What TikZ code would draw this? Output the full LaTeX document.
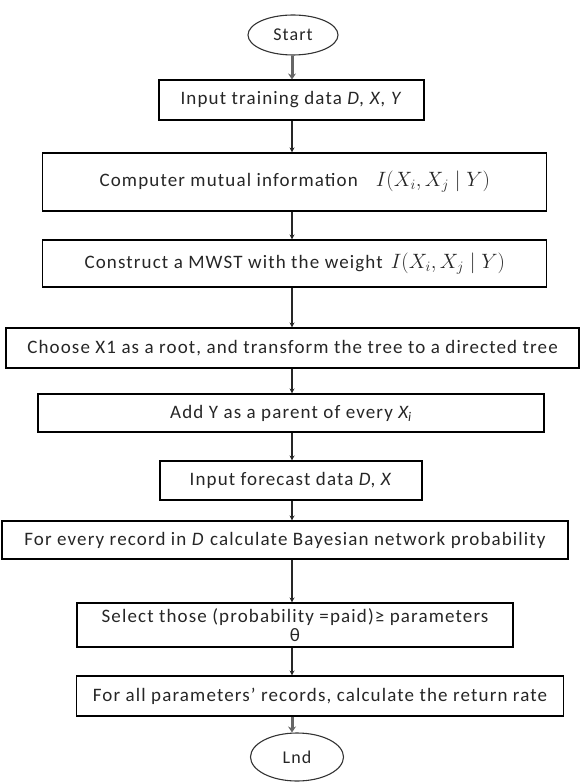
\documentclass[tikz,border=0pt]{standalone}
\usepackage{fontspec}
\setmainfont{Carlito}[LetterSpace=6]
\usetikzlibrary{shapes.geometric,arrows.meta}
\tikzset{
  box/.style={draw=black, line width=1.1pt, rectangle, inner sep=0pt, font=\fontsize{19}{22}\selectfont, text=black!85},
  oval/.style={draw=black!80, line width=1.1pt, ellipse, inner sep=0pt, font=\fontsize{18}{20}\selectfont, text=black!85},
  arr/.style={draw=black!85, line width=1.4pt, -{Stealth[length=5pt,width=5pt]}},
  tharr/.style={draw=black!60, line width=3pt, -{Stealth[length=6pt,width=8pt]}}
}
\newcommand{\mimath}{{\fontsize{20.5}{24}\selectfont$I(X_i, X_j \mid Y)$}}
\begin{document}
\begin{tikzpicture}[x=1pt,y=-1pt]
\useasboundingbox (0,0) rectangle (580,783);
\coordinate (ax) at (292,0);
\node[oval, minimum width=90pt, minimum height=40pt] (start) at (293,35) {Start};
\node[box, minimum width=265pt, minimum height=40pt] (b1) at (291.5,100) {Input training data \textit{D, X, Y}};
\node[box, minimum width=504pt, minimum height=58pt] (b2) at (294.75,182) {Computer mutual information\hspace{18pt}\mimath};
\node[box, minimum width=504pt, minimum height=47pt] (b3) at (294.75,263.5) {Construct a MWST with the weight\hspace{8pt}\mimath};
\node[box, minimum width=573pt, minimum height=40pt] (b4) at (292.5,348) {Choose X1 as a root, and transform the tree to a directed tree};
\node[box, minimum width=506pt, minimum height=38pt] (b5) at (291,413) {Add Y as a parent of every \textit{X\textsubscript{i}}};
\node[box, minimum width=262pt, minimum height=39pt] (b6) at (291,480.5) {Input forecast data \textit{D}, \textit{X}};
\node[box, minimum width=566pt, minimum height=38pt] (b7) at (285,540) {For every record in \textit{D} calculate Bayesian network probability};
\node[box, minimum width=436pt, minimum height=44pt, align=center] (b8) at (295,625) {Select those (probability =paid)≥ parameters\\[-3pt]θ};
\node[box, minimum width=487pt, minimum height=40pt] (b9) at (320,696) {For all parameters’ records, calculate the return rate};
\node[oval, minimum width=93pt, minimum height=48pt] (end) at (297,757) {Lnd};
\draw[tharr] (start.south -| ax) -- (b1.north -| ax);
\draw[arr] (b1.south -| ax) -- (b2.north -| ax);
\draw[arr] (b2.south -| ax) -- (b3.north -| ax);
\draw[arr] (b3.south -| ax) -- (b4.north -| ax);
\draw[arr] (b4.south -| ax) -- (b5.north -| ax);
\draw[arr] (b5.south -| ax) -- (b6.north -| ax);
\draw[arr] (b6.south -| ax) -- (b7.north -| ax);
\draw[arr] (b7.south -| ax) -- (b8.north -| ax);
\draw[arr] (b8.south -| ax) -- (b9.north -| ax);
\draw[tharr] (b9.south -| ax) -- (end.north -| ax);
\end{tikzpicture}
\end{document}
